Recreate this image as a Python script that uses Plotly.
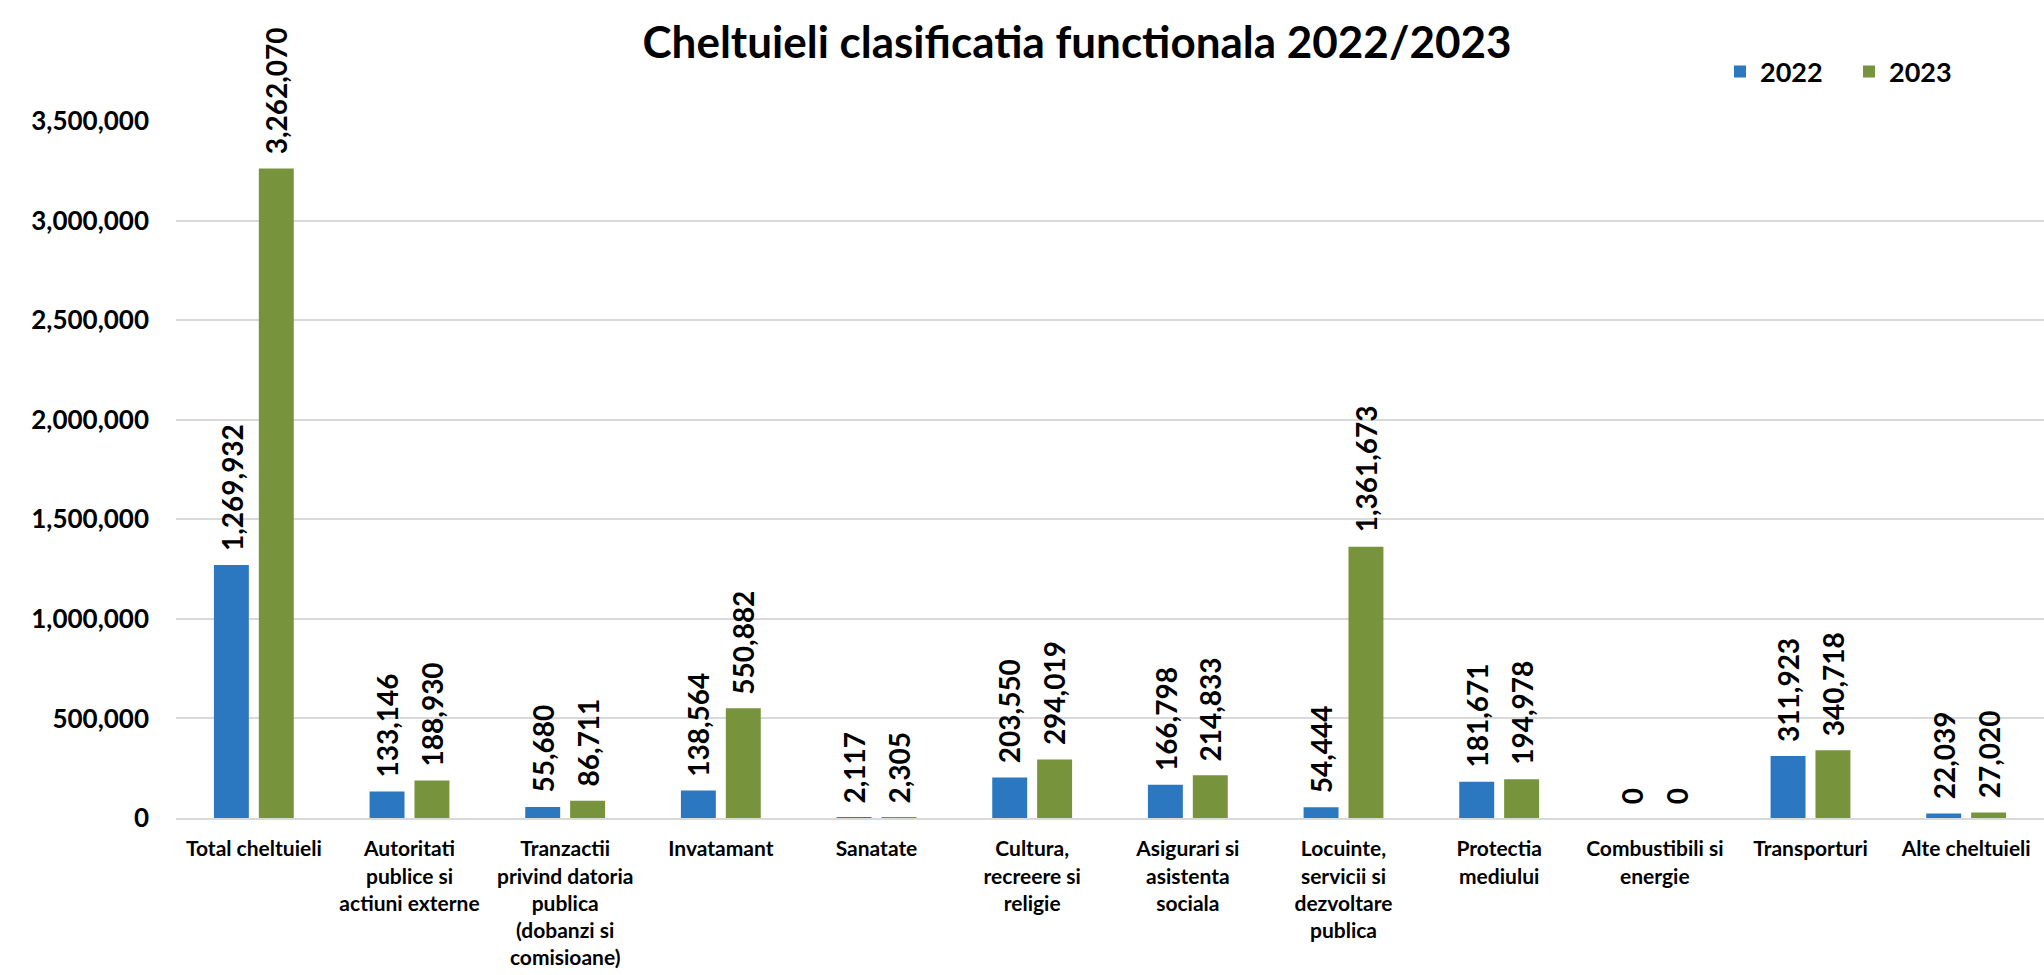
import plotly.graph_objects as go

# Functional classification of expenditures, 2022 vs 2023
categories = [
    "Total cheltuieli",
    "Autoritati<br>publice si<br>actiuni externe",
    "Tranzactii<br>privind datoria<br>publica<br>(dobanzi si<br>comisioane)",
    "Invatamant",
    "Sanatate",
    "Cultura,<br>recreere si<br>religie",
    "Asigurari si<br>asistenta<br>sociala",
    "Locuinte,<br>servicii si<br>dezvoltare<br>publica",
    "Protectia<br>mediului",
    "Combustibili si<br>energie",
    "Transporturi",
    "Alte cheltuieli",
]
values_2022 = [1269932, 133146, 55680, 138564, 2117, 203550, 166798, 54444, 181671, 0, 311923, 22039]
values_2023 = [3262070, 188930, 86711, 550882, 2305, 294019, 214833, 1361673, 194978, 0, 340718, 27020]
series_names = ["2022", "2023"]
y_ticks = [0, 500000, 1000000, 1500000, 2000000, 2500000, 3000000, 3500000]

FONT = "Lato"
COLORS = ["#2B78C0", "#77933C"]
W, H = 2044, 975

fig = go.Figure()
for name, vals, col in zip(series_names, [values_2022, values_2023], COLORS):
    fig.add_trace(go.Bar(
        name=name, x=categories, y=vals,
        marker=dict(color=col, line=dict(width=0)),
    ))

# rotated value labels above each bar
annotations = []
for vals, shift in zip([values_2022, values_2023], [-22.5, 22.5]):
    for cat, v in zip(categories, vals):
        annotations.append(dict(
            x=cat, y=v, xref="x", yref="y", xshift=shift, yshift=12,
            text=f"{v:,}", textangle=-90, showarrow=False,
            xanchor="center", yanchor="bottom",
            font=dict(family=FONT, size=28, color="#000000", weight="bold"),
        ))

fig.update_layout(
    width=W, height=H,
    margin=dict(l=176, r=0, t=121, b=157, autoexpand=False),
    paper_bgcolor="white", plot_bgcolor="white",
    barmode="group", bargap=0.423, bargroupgap=0.222,
    title=dict(
        text="Cheltuieli clasificatia functionala 2022/2023",
        x=1077 / W, xanchor="center", xref="container",
        y=1 - 27 / H, yanchor="top", yref="container",
        font=dict(family=FONT, size=44, color="#000000", weight="bold"),
    ),
    legend=dict(
        orientation="h", x=1720 / W, xanchor="left", y=1 - 72 / H, yanchor="middle",
        xref="container", yref="container",
        font=dict(family=FONT, size=27, color="#000000", weight="bold"),
        traceorder="normal", entrywidth=84, entrywidthmode="pixels",
        bgcolor="rgba(0,0,0,0)",
    ),
    xaxis=dict(
        type="category", automargin=False,
        tickfont=dict(family=FONT, size=21, color="#000000", weight="bold"),
        showline=True, linecolor="#D9D9D9", linewidth=2, layer="above traces",
        showgrid=False, ticks="", ticklabelstandoff=11,
    ),
    yaxis=dict(
        range=[0, 3500000], tickvals=y_ticks, tickformat=",d", automargin=False,
        tickfont=dict(family=FONT, size=26, color="#000000", weight="bold"),
        showgrid=True, gridcolor="#D9D9D9", gridwidth=2,
        zeroline=False,
        showline=False, ticks="", ticklabelstandoff=26,
    ),
    annotations=annotations,
)

fig.write_html("out.html")
